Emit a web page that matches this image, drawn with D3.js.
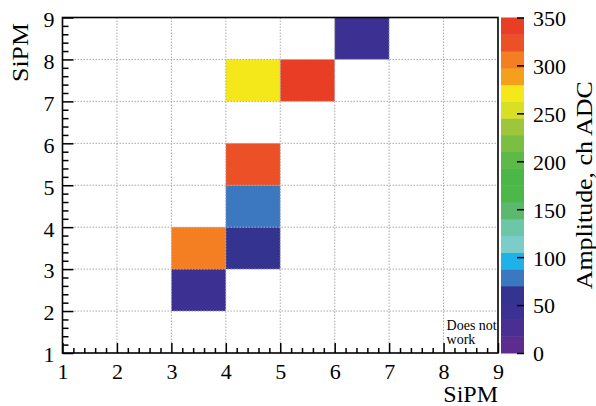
<!DOCTYPE html>
<html>
<head>
<meta charset="utf-8">
<script src="https://cdn.jsdelivr.net/npm/d3@7"></script>
<style>
html,body{margin:0;padding:0;background:#fff;}
svg{display:block;}
svg text{font-family:"Liberation Serif","Times New Roman",serif;}
</style>
</head>
<body>
<svg id="chart" width="596" height="406"></svg>
<script>
// ---- data ----
const cellX = [6, 4, 5, 4, 4, 3, 4, 3];
const cellY = [8, 7, 7, 5, 4, 3, 3, 2];
const amplitude = [45, 270, 340, 325, 80, 305, 62, 45];
const axisTicks = [1, 2, 3, 4, 5, 6, 7, 8, 9];
const colorTicks = [0, 50, 100, 150, 200, 250, 300, 350];
const palette = [
  "#5c2d8f", "#4b2e92", "#3d3093", "#343390", "#3b78bf",
  "#1fb2e8", "#7ccdc9", "#6dc6a8", "#5cb86c", "#4db749",
  "#4cb749", "#5db948", "#7abf42", "#9dc63c", "#d8df25",
  "#f5e81a", "#f5a01c", "#f47e22", "#ec5026", "#e83e26"
];
const noteLines = ["Does not", "work"];
const xTitle = "SiPM", yTitle = "SiPM", zTitle = "Amplitude, ch ADC";

// ---- layout ----
const FONT = '"Liberation Serif","Times New Roman",serif';
const svg = d3.select("#chart");
const L = 62.5, R = 498, T = 17.5, B = 353;
const x = d3.scaleLinear().domain([1, 9]).range([L, R]);
const y = d3.scaleLinear().domain([1, 9]).range([B, T]);
const color = d3.scaleQuantize().domain([0, 350]).range(palette);
const cb = d3.scaleLinear().domain([0, 350]).range([B, T]);
const cbL = 501, cbR = 524;

// cells
svg.append("g").selectAll("rect").data(amplitude).join("rect")
  .attr("x", (d, i) => x(cellX[i]))
  .attr("y", (d, i) => y(cellY[i] + 1))
  .attr("width", (d, i) => x(cellX[i] + 1) - x(cellX[i]))
  .attr("height", (d, i) => y(cellY[i]) - y(cellY[i] + 1))
  .attr("fill", d => color(d));

// grid
const grid = svg.append("g").attr("stroke", "#aaa").attr("stroke-width", 1)
  .attr("stroke-dasharray", "1.5,1.5");
grid.selectAll(".gx").data(axisTicks.slice(1, -1)).join("line")
  .attr("x1", d => x(d)).attr("x2", d => x(d)).attr("y1", T).attr("y2", B);
grid.selectAll(".gy").data(axisTicks.slice(1, -1)).join("line")
  .attr("y1", d => y(d)).attr("y2", d => y(d)).attr("x1", L).attr("x2", R);

// minor ticks
const minor = d3.range(1, 9.001, 0.2).map(v => +v.toFixed(1)).filter(v => !axisTicks.includes(v));
const fontTick = 22;

const xMin = svg.append("g").attr("transform", `translate(0,${B})`)
  .call(d3.axisBottom(x).tickValues(minor).tickSize(-5).tickFormat(""));
const yMin = svg.append("g").attr("transform", `translate(${L},0)`)
  .call(d3.axisLeft(y).tickValues(minor).tickSize(-6).tickFormat(""));

const xAx = svg.append("g").attr("transform", `translate(0,${B})`)
  .call(d3.axisBottom(x).tickValues(axisTicks).tickSize(-10).tickPadding(10).tickFormat(d3.format("d")));
const yAx = svg.append("g").attr("transform", `translate(${L},0)`)
  .call(d3.axisLeft(y).tickValues(axisTicks).tickSize(-11).tickPadding(8).tickFormat(d3.format("d")));

[xMin, yMin, xAx, yAx].forEach(g => {
  g.attr("font-family", FONT).attr("font-size", fontTick);
  g.select(".domain").remove();
  g.selectAll("line").attr("stroke", "#000").attr("stroke-width", 1.5);
  g.selectAll("text").attr("fill", "#000").style("font-family", FONT);
});
yAx.selectAll("text").attr("dy", "0.4em");

// frame
svg.append("rect").attr("x", L).attr("y", T).attr("width", R - L).attr("height", B - T)
  .attr("fill", "none").attr("stroke", "#000").attr("stroke-width", 1.6);

// note
svg.append("text").attr("x", x(8) + 3).attr("y", 329.5).attr("font-size", 14)
  .selectAll("tspan").data(noteLines).join("tspan")
  .attr("x", x(8) + 3).attr("dy", (d, i) => i ? 14 : 0).text(d => d);

// colour bar
const bands = d3.range(palette.length);
const bw = 350 / palette.length;
svg.append("g").selectAll("rect").data(bands).join("rect")
  .attr("x", cbL).attr("width", cbR - cbL)
  .attr("y", d => cb((d + 1) * bw)).attr("height", d => cb(d * bw) - cb((d + 1) * bw) + 0.5)
  .attr("fill", d => palette[d]);
const cAx = svg.append("g").attr("transform", `translate(${cbR},0)`)
  .call(d3.axisRight(cb).tickValues(colorTicks).tickSize(-7).tickPadding(9).tickFormat(d3.format("d")));
cAx.attr("font-family", FONT).attr("font-size", fontTick);
cAx.select(".domain").remove();
cAx.selectAll("line").attr("stroke", "#000").attr("stroke-width", 1.5);
cAx.selectAll("text").attr("fill", "#000").attr("dy", "0.36em").style("font-family", FONT);

// titles
svg.append("text").attr("x", R).attr("y", 402).attr("text-anchor", "end")
  .attr("font-size", 24).text(xTitle);
svg.append("text").attr("transform", "translate(28,23) rotate(-90)").attr("text-anchor", "end")
  .attr("font-size", 24).attr("textLength", 59).attr("lengthAdjust", "spacingAndGlyphs").text(yTitle);
svg.append("text").attr("transform", `translate(592,${(T + B) / 2}) rotate(-90)`).attr("text-anchor", "middle")
  .attr("font-size", 24).attr("textLength", 208).attr("lengthAdjust", "spacingAndGlyphs").text(zTitle);
</script>
</body>
</html>
